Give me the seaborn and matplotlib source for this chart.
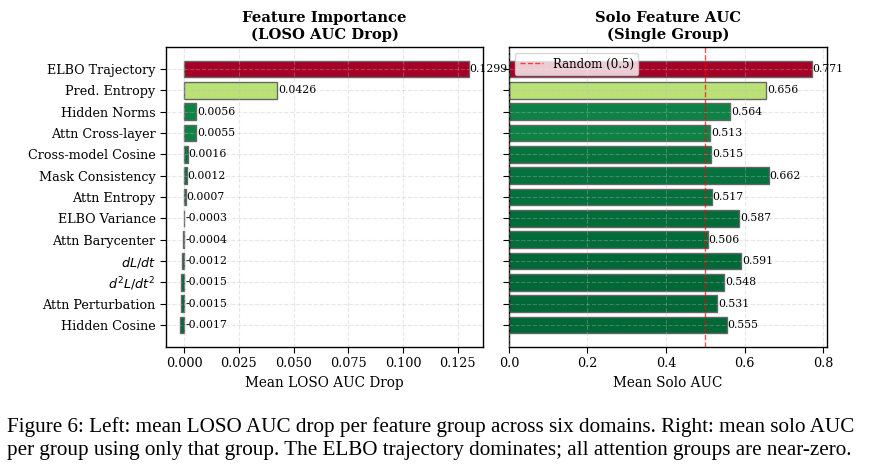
import numpy as np
import pandas as pd
import matplotlib
matplotlib.use("Agg")
import matplotlib.pyplot as plt
import seaborn as sns
from matplotlib.colors import Normalize

features = ["ELBO Trajectory", "Pred. Entropy", "Hidden Norms", "Attn Cross-layer",
            "Cross-model Cosine", "Mask Consistency", "Attn Entropy", "ELBO Variance",
            "Attn Barycenter", r"$dL/dt$", r"$d^2L/dt^2$", "Attn Perturbation",
            "Hidden Cosine"]
loso_drop = [0.1299, 0.0426, 0.0056, 0.0055, 0.0016, 0.0012, 0.0007, -0.0003,
             -0.0004, -0.0012, -0.0015, -0.0015, -0.0017]
solo_auc = [0.771, 0.656, 0.564, 0.513, 0.515, 0.662, 0.517, 0.587, 0.506,
            0.591, 0.548, 0.531, 0.555]

caption = ("Figure 6: Left: mean LOSO AUC drop per feature group across six domains. Right: mean solo AUC\n"
           "per group using only that group. The ELBO trajectory dominates; all attention groups are near-zero.")

sns.set_style("whitegrid", {"grid.linestyle": "--", "axes.edgecolor": "black",
                            "xtick.bottom": True, "ytick.left": True,
                            "text.color": "black", "axes.labelcolor": "black",
                            "xtick.color": "black", "ytick.color": "black"})
plt.rcParams["font.family"] = ["DejaVu Serif"]
plt.rcParams["mathtext.fontset"] = "dejavusans"

df = pd.DataFrame({"feature": features, "loso": loso_drop, "solo": solo_auc})
cmap = plt.get_cmap("RdYlGn_r")
norm = Normalize(min(loso_drop), max(loso_drop))
palette = {f: cmap(norm(v)) for f, v in zip(features, loso_drop)}

fig = plt.figure(figsize=(8.76, 4.71), dpi=100)
ax1 = fig.add_axes([0.1895, 0.2633, 0.362, 0.637])
ax2 = fig.add_axes([0.581, 0.2633, 0.363, 0.637], sharey=ax1)

n = len(features)
for ax, col in [(ax1, "loso"), (ax2, "solo")]:
    sns.barplot(data=df, y="feature", x=col, hue="feature", palette=palette,
                order=features, orient="h", width=0.78, edgecolor="#666666",
                linewidth=1, saturation=1, legend=False, ax=ax)
    ax.set_ylim(n - 1 + 1.04, -1.04)
    ax.set_ylabel("")
    ax.grid(True, linestyle="--", alpha=0.35, color="#bbbbbb")
    ax.set_axisbelow(False)
    for s in ax.spines.values():
        s.set_color("black")
        s.set_linewidth(1)
    ax.tick_params(axis="both", labelsize=9.2, length=4, color="black")

# left panel
ax1.set_xlim(-0.0083, 0.1365)
ax1.set_xticks([0, 0.025, 0.05, 0.075, 0.1, 0.125])
ax1.set_xlabel("Mean LOSO AUC Drop", fontsize=9.8)
ax1.set_title("Feature Importance\n(LOSO AUC Drop)", fontsize=10.6, fontweight="bold")
for i, v in enumerate(loso_drop):
    ax1.text(max(v, 0) + 0.0004, i, f"{v:.4f}", va="center", ha="left", fontsize=7.8)

# right panel
ax2.set_xlim(0, 0.81)
ax2.set_xticks([0, 0.2, 0.4, 0.6, 0.8])
ax2.set_xlabel("Mean Solo AUC", fontsize=9.8)
ax2.set_title("Solo Feature AUC\n(Single Group)", fontsize=10.6, fontweight="bold")
ax2.axvline(0.5, color="red", linestyle="--", linewidth=1, alpha=0.7, label="Random (0.5)")
ax2.tick_params(axis="y", labelleft=False)
for i, v in enumerate(solo_auc):
    ax2.text(v + 0.002, i, f"{v:.3f}", va="center", ha="left", fontsize=7.8)
ax2.legend(loc="upper left", fontsize=8.5, framealpha=0.8)

fig.text(0.008, 0.115, caption, fontsize=15.2, family=["Liberation Serif"],
         va="top", ha="left", linespacing=1.3)

fig.savefig("out.png", dpi=100)
